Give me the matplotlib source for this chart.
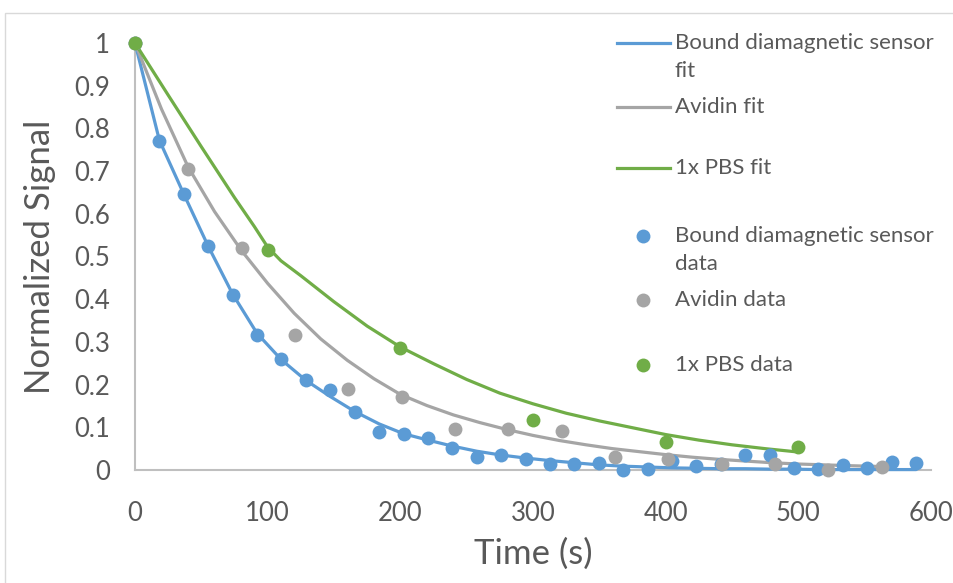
import matplotlib
matplotlib.use("Agg")
import matplotlib.pyplot as plt
from matplotlib.lines import Line2D
from matplotlib.patches import Rectangle

# ---------------- data ----------------
bound_t = [0, 18.4, 36.8, 55.2, 73.6, 92, 110.4, 128.8, 147.2, 165.6, 184, 202.4,
           220.8, 239.2, 257.6, 276, 294.4, 312.8, 331.2, 349.6, 368, 386.4, 404.8,
           423.2, 441.6, 460, 478.4, 496.8, 515.2, 533.6, 552, 570.4, 588.8]
bound_data = [1.0, 0.770, 0.646, 0.524, 0.411, 0.317, 0.259, 0.210, 0.187, 0.137,
              0.090, 0.084, 0.074, 0.052, 0.031, 0.036, 0.025, 0.013, 0.013, 0.016,
              0.000, 0.002, 0.020, 0.010, 0.015, 0.035, 0.034, 0.005, 0.002, 0.011,
              0.004, 0.019, 0.017]
bound_fit = [1.0, 0.772, 0.646, 0.524, 0.412, 0.320, 0.258, 0.210, 0.172, 0.137,
             0.108, 0.085, 0.070, 0.056, 0.044, 0.035, 0.028, 0.022, 0.017, 0.012,
             0.009, 0.007, 0.005, 0.004, 0.003, 0.003, 0.002, 0.002, 0.001, 0.001,
             0.001, 0.001, 0.001]

avidin_t = [0, 40.2, 80.4, 120.6, 160.8, 201, 241.2, 281.4, 321.6, 361.8, 402,
            442.2, 482.4, 522.6, 562.8]
avidin_data = [1.0, 0.705, 0.519, 0.315, 0.190, 0.170, 0.096, 0.095, 0.092, 0.031,
               0.026, 0.013, 0.014, 0.000, 0.008]
avidin_fit_t = [0, 20, 40, 60, 80, 100, 120, 140, 160, 180, 200, 220, 240, 260, 280,
                300, 320, 340, 360, 380, 400, 420, 440, 460, 480, 500, 520, 540, 565]
avidin_fit = [1.0, 0.845, 0.710, 0.605, 0.515, 0.437, 0.367, 0.307, 0.257, 0.214,
              0.177, 0.151, 0.129, 0.111, 0.095, 0.081, 0.069, 0.059, 0.050, 0.043,
              0.036, 0.030, 0.025, 0.021, 0.017, 0.014, 0.012, 0.010, 0.008]

pbs_t = [0, 100, 200, 300, 400, 500]
pbs_data = [1.0, 0.515, 0.286, 0.118, 0.066, 0.055]
pbs_fit_t = [0, 25, 50, 75, 90, 100, 110, 125, 150, 175, 200, 225, 250, 275, 300, 325,
             350, 375, 400, 425, 450, 475, 497]
pbs_fit = [1.0, 0.878, 0.757, 0.638, 0.570, 0.522, 0.490, 0.455, 0.394, 0.337, 0.288,
           0.249, 0.212, 0.180, 0.155, 0.133, 0.115, 0.099, 0.083, 0.070, 0.059, 0.050,
           0.043]

x_ticks = [0, 100, 200, 300, 400, 500, 600]
y_ticks = [0, 0.1, 0.2, 0.3, 0.4, 0.5, 0.6, 0.7, 0.8, 0.9, 1.0]
y_tick_labels = ["0", "0.1", "0.2", "0.3", "0.4", "0.5", "0.6", "0.7", "0.8", "0.9", "1"]

legend_labels = [["Bound diamagnetic sensor", "fit"], ["Avidin fit"], ["1x PBS fit"],
                 ["Bound diamagnetic sensor", "data"], ["Avidin data"], ["1x PBS data"]]

# ---------------- style ----------------
BLUE = "#5B9BD5"
GRAY = "#A5A5A5"
GREEN = "#70AD47"
TXT = "#595959"
AX = "#BFBFBF"
FONT = ["Lato", "DejaVu Sans"]

W, H = 954, 583
fig = plt.figure(figsize=(W / 100, H / 100), dpi=100)
fig.patch.set_facecolor("white")

def fx(px):
    return px / W

def fy(py):
    return 1 - py / H

# chart border (partly cropped)
fig.add_artist(Rectangle((fx(5), fy(700)), 2, fy(13) - fy(700), transform=fig.transFigure,
                         fill=False, edgecolor="#D9D9D9", linewidth=1.0))

ax = fig.add_axes([fx(135), fy(470), fx(931) - fx(135), fy(43) - fy(470)])
ax.set_xlim(0, 600)
ax.set_ylim(0, 1)
ax.patch.set_alpha(0)

lw = 2.3
ms = 10
ax.plot(bound_t, bound_fit, color=BLUE, lw=lw, solid_capstyle="round", zorder=3, clip_on=False)
ax.plot(avidin_fit_t, avidin_fit, color=GRAY, lw=lw, solid_capstyle="round", zorder=3, clip_on=False)
ax.plot(pbs_fit_t, pbs_fit, color=GREEN, lw=lw, solid_capstyle="round", zorder=3, clip_on=False)
ax.plot(bound_t, bound_data, "o", color=BLUE, ms=ms, mew=0, zorder=4, clip_on=False)
ax.plot(avidin_t, avidin_data, "o", color=GRAY, ms=ms, mew=0, zorder=5, clip_on=False)
ax.plot(pbs_t, pbs_data, "o", color=GREEN, ms=ms, mew=0, zorder=6, clip_on=False)

for s in ["top", "right"]:
    ax.spines[s].set_visible(False)
for s in ["left", "bottom"]:
    ax.spines[s].set_color(AX)
    ax.spines[s].set_linewidth(1.5)
    ax.spines[s].set_zorder(1)

ax.set_xticks(x_ticks)
ax.set_xticklabels([str(v) for v in x_ticks])
ax.set_yticks(y_ticks)
ax.set_yticklabels(y_tick_labels)
ax.tick_params(axis="both", length=0, labelsize=18.5, labelcolor=TXT)
ax.tick_params(axis="x", pad=22)
ax.tick_params(axis="y", pad=18)
for lab in ax.get_xticklabels() + ax.get_yticklabels():
    lab.set_fontfamily(FONT)

ax.set_xlabel("Time (s)", fontsize=25, color=TXT, family=FONT, labelpad=9)
ax.set_ylabel("Normalized Signal", fontsize=25, color=TXT, family=FONT, labelpad=13)

# ---------------- legend (manual, Excel layout) ----------------
line_rows = [43, 107, 168]
marker_rows = [236, 300, 365]
colors = [BLUE, GRAY, GREEN]
leg_fs = 16
for i, (py, c) in enumerate(zip(line_rows, colors)):
    fig.add_artist(Line2D([fx(617), fx(670)], [fy(py), fy(py)], color=c, lw=lw,
                          transform=fig.transFigure))
for i, (py, c) in enumerate(zip(marker_rows, colors)):
    fig.add_artist(Line2D([fx(643)], [fy(py)], marker="o", color=c, ms=ms, mew=0,
                          transform=fig.transFigure))
rows = line_rows + marker_rows
for lab_lines, py in zip(legend_labels, rows):
    for k, t in enumerate(lab_lines):
        fig.text(fx(675), fy(py + 28 * k), t, fontsize=leg_fs, color=TXT, family=FONT,
                 ha="left", va="center")

fig.savefig("out.png", dpi=100)
